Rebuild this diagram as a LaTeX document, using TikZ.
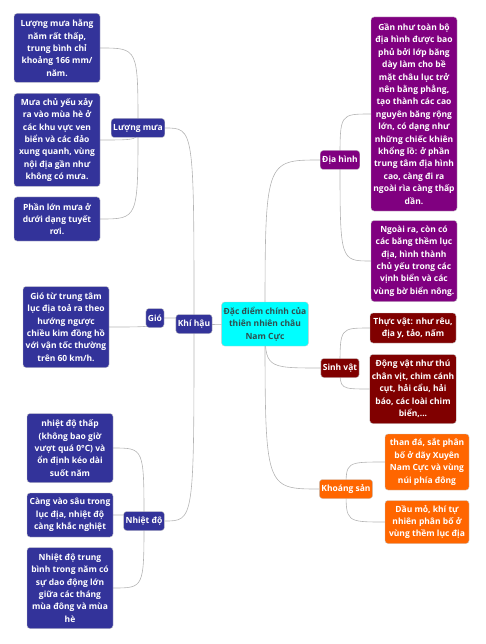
\documentclass[tikz,border=0pt]{standalone}
\usepackage{fontspec}
\setmainfont{Open Sans}
\usepackage{tikz}
\usetikzlibrary{backgrounds}
\definecolor{climblue}{HTML}{33339A}
\definecolor{landpurple}{HTML}{800080}
\definecolor{lifered}{HTML}{800000}
\definecolor{oreorange}{HTML}{FF6600}
\definecolor{rootcyan}{HTML}{00FFFF}
\definecolor{roottext}{HTML}{2F4F4F}
\definecolor{linkgray}{HTML}{B4B4B4}

\begin{document}
\begin{tikzpicture}[x=1pt, y=-1pt,
    font=\fontsize{8.5}{12.4}\selectfont\bfseries,
    box/.style={draw=gray!45, line width=0.4pt, rounded corners=3pt, align=center,
      text=white, inner xsep=2pt, inner ysep=3pt},
    branch/.style={box, minimum height=19pt},
    leaf/.style={box, minimum width=86pt},
    link/.style={draw=linkgray, line width=0.6pt,
      to path={.. controls (\tikztostart |- \tikztotarget) and (\tikztostart |- \tikztotarget) .. (\tikztotarget)}}]
  \useasboundingbox (0,0) rectangle (485,644);

  % ROOT
  \node[box, fill=rootcyan, text=roottext, minimum width=83pt, minimum height=44pt] (root) at (265,324)
    {Đặc điểm chính của\\thiên nhiên châu\\Nam Cực};

  % LEFT: Khí hậu
  \node[branch, fill=climblue] (khihau) at (194,324) {Khí hậu};
  \node[branch, fill=climblue] (luongmua) at (138,128) {Lượng mưa};
  \node[branch, fill=climblue] (gio) at (155,318) {Gió};
  \node[branch, fill=climblue] (nhietdo) at (144,521) {Nhiệt độ};

  % Lượng mưa leaves
  \node[leaf, fill=climblue, minimum height=69pt] (lm1) at (57,48)
    {Lượng mưa hằng\\năm rất thấp,\\trung bình chỉ\\khoảng 166 mm/\\năm.};
  \node[leaf, fill=climblue, minimum height=93pt] (lm2) at (57,140)
    {Mưa chủ yếu xảy\\ra vào mùa hè ở\\các khu vực ven\\biển và các đảo\\xung quanh, vùng\\nội địa gần như\\không có mưa.};
  \node[leaf, fill=climblue, minimum height=44pt] (lm3) at (57,219)
    {Phần lớn mưa ở\\dưới dạng tuyết\\rơi.};

  % Gió leaf
  \node[leaf, fill=climblue, minimum height=81pt] (gio1) at (66,327)
    {Gió từ trung tâm\\lục địa toả ra theo\\hướng ngược\\chiều kim đồng hồ\\với vận tốc thường\\trên 60 km/h.};

  % Nhiệt độ leaves
  \node[leaf, fill=climblue, minimum height=69pt] (nd1) at (70,448)
    {nhiệt độ thấp\\(không bao giờ\\vượt quá 0°C) và\\ổn định kéo dài\\suốt năm};
  \node[leaf, fill=climblue, minimum height=44pt] (nd2) at (70,515)
    {Càng vào sâu trong\\lục địa, nhiệt độ\\càng khắc nghiệt};
  \node[leaf, fill=climblue, minimum height=81pt] (nd3) at (70,588)
    {Nhiệt độ trung\\bình trong năm có\\sự dao động lớn\\giữa các tháng\\mùa đông và mùa\\hè};

  % RIGHT: Địa hình
  \node[branch, fill=landpurple] (diahinh) at (340,160) {Địa hình};
  \node[leaf, fill=landpurple, minimum height=194pt] (dh1) at (414,114)
    {Gần như toàn bộ\\địa hình được bao\\phủ bởi lớp băng\\dày làm cho bề\\mặt châu lục trở\\nên bằng phẳng,\\tạo thành các cao\\nguyên băng rộng\\lớn, có dạng như\\những chiếc khiên\\khổng lồ: ở phần\\trung tâm địa hình\\cao, càng đi ra\\ngoài rìa càng thấp\\dần.};
  \node[leaf, fill=landpurple, minimum height=81pt] (dh2) at (414,261)
    {Ngoài ra, còn có\\các băng thềm lục\\địa, hình thành\\chủ yếu trong các\\vịnh biển và các\\vùng bờ biển nông.};

  % Sinh vật
  \node[branch, fill=lifered] (sinhvat) at (340,368) {Sinh vật};
  \node[leaf, fill=lifered, minimum height=30pt] (sv1) at (413,328)
    {Thực vật: như rêu,\\địa y, tảo, nấm};
  \node[leaf, fill=lifered, minimum height=69pt] (sv2) at (413,389)
    {Động vật như thú\\chân vịt, chim cánh\\cụt, hải cẩu, hải\\báo, các loài chim\\biển,...};

  % Khoáng sản
  \node[branch, fill=oreorange] (khoangsan) at (346,489) {Khoáng sản};
  \node[leaf, fill=oreorange, minimum width=84pt, minimum height=56pt] (ks1) at (427,462)
    {than đá, sắt phân\\bố ở dãy Xuyên\\Nam Cực và vùng\\núi phía đông};
  \node[leaf, fill=oreorange, minimum width=84pt, minimum height=43pt] (ks2) at (427,522)
    {Dầu mỏ, khí tự\\nhiên phân bố ở\\vùng thềm lục địa};

  % connectors
  \begin{scope}[on background layer]
    \draw[link] (root.center) to (khihau.east);
    \draw[link] (khihau.center) to (luongmua.east);
    \draw[link] (khihau.center) to (gio.east);
    \draw[link] (khihau.center) to (nhietdo.east);
    \draw[link] (luongmua.center) to (lm1.east);
    \draw[link] (luongmua.center) to (lm2.east);
    \draw[link] (luongmua.center) to (lm3.east);
    \draw[link] (gio.center) to (gio1.east);
    \draw[link] (nhietdo.center) to (nd1.east);
    \draw[link] (nhietdo.center) to (nd2.east);
    \draw[link] (nhietdo.center) to (nd3.east);
    \draw[link] (root.center) to (diahinh.west);
    \draw[link] (root.center) to (sinhvat.west);
    \draw[link] (root.center) to (khoangsan.west);
    \draw[link] (diahinh.center) to (dh1.west);
    \draw[link] (diahinh.center) to (dh2.west);
    \draw[link] (sinhvat.center) to (sv1.west);
    \draw[link] (sinhvat.center) to (sv2.west);
    \draw[link] (khoangsan.center) to (ks1.west);
    \draw[link] (khoangsan.center) to (ks2.west);
  \end{scope}
\end{tikzpicture}
\end{document}
